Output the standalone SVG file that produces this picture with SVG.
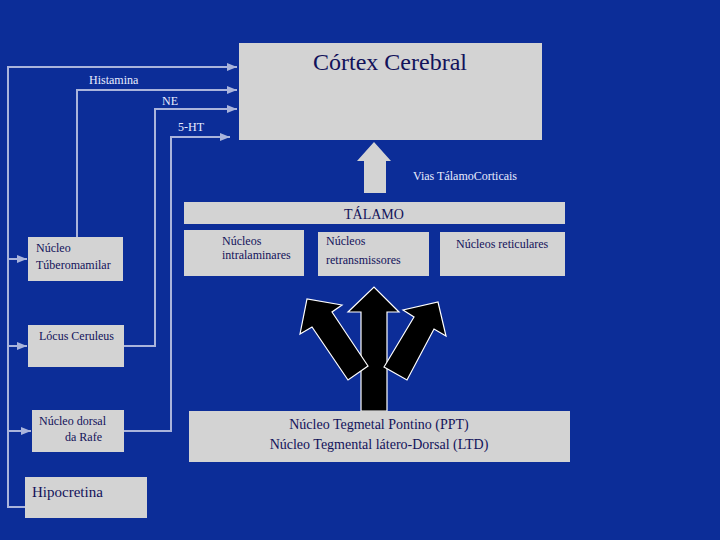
<svg xmlns="http://www.w3.org/2000/svg" width="720" height="540" viewBox="0 0 720 540">
<defs>
<marker id="ah" viewBox="0 0 10 10" refX="10" refY="5" markerWidth="5" markerHeight="5" markerUnits="strokeWidth" orient="auto">
<path d="M0,1 L10,5 L0,9 Z" fill="#aab4dc"/>
</marker>
<style>
.box{fill:#d3d3d3}
.t{fill:#12125a}
.lbl{fill:#e8ecff;font-size:12px}
.ln{fill:none;stroke:#aab4dc;stroke-width:2}
.blk{fill:#000;stroke:#fff;stroke-width:1.2;stroke-linejoin:miter}
</style>
</defs>
<rect width="720" height="540" fill="#0c2d98"/>
<g font-family="Liberation Serif, Times New Roman, DejaVu Serif, serif">
<g id="connectors">
<polyline class="ln" points="25,507 8,507 8,67 237,67" marker-end="url(#ah)"/>
<line class="ln" x1="8" y1="259" x2="27" y2="259" marker-end="url(#ah)"/>
<line class="ln" x1="8" y1="346" x2="27" y2="346" marker-end="url(#ah)"/>
<line class="ln" x1="8" y1="431" x2="31" y2="431" marker-end="url(#ah)"/>
<polyline class="ln" points="77,237 77,90 237,90" marker-end="url(#ah)"/>
<polyline class="ln" points="124,346 155,346 155,109 237,109" marker-end="url(#ah)"/>
<polyline class="ln" points="124,431 171,431 171,137 230,137" marker-end="url(#ah)"/>
<text class="lbl" x="89" y="84">Histamina</text>
<text class="lbl" x="162" y="105">NE</text>
<text class="lbl" x="178" y="131">5-HT</text>
<polygon fill="#d3d3d3" points="374,142 391,161 386,161 386,193 364,193 364,161 357,161"/>
<text class="lbl" x="413" y="180">Vias TálamoCorticais</text>
<polygon class="blk" points="361,411 361,312 348,312 374,287 399,312 387,312 387,411"/>
<polygon class="blk" points="348,380 312,327 300,334 307,299 342,305 332,312 368,366"/>
<polygon class="blk" points="384,367 414,317 403,310 438,302 446,336 434,329 407,380"/>
</g>

<g id="cortex">
<rect class="box" x="239" y="43" width="303" height="97"/>
<text class="t" x="390" y="70" font-size="24" text-anchor="middle">Córtex Cerebral</text>
</g>

<g id="talamo">
<rect class="box" x="184" y="202" width="381" height="22"/>
<text class="t" x="374" y="219" font-size="14" text-anchor="middle">TÁLAMO</text>
</g>

<g id="intralaminares">
<rect class="box" x="184" y="230" width="120" height="46"/>
<text class="t" x="222" y="245" font-size="12">Núcleos</text>
<text class="t" x="222" y="259" font-size="12">intralaminares</text>
</g>

<g id="retransmissores">
<rect class="box" x="318" y="232" width="111" height="44"/>
<text class="t" x="326" y="245" font-size="12">Núcleos</text>
<text class="t" x="326" y="264" font-size="12">retransmissores</text>
</g>

<g id="reticulares">
<rect class="box" x="440" y="232" width="125" height="44"/>
<text class="t" x="456" y="248" font-size="12">Núcleos reticulares</text>
</g>

<g id="tuberomamilar">
<rect class="box" x="28" y="237" width="95" height="44"/>
<text class="t" x="36" y="252" font-size="12">Núcleo</text>
<text class="t" x="36" y="269" font-size="12">Túberomamilar</text>
</g>

<g id="locus">
<rect class="box" x="28" y="325" width="96" height="42"/>
<text class="t" x="39" y="340" font-size="12">Lócus Ceruleus</text>
</g>

<g id="rafe">
<rect class="box" x="32" y="410" width="92" height="42"/>
<text class="t" x="39" y="425" font-size="12">Núcleo dorsal</text>
<text class="t" x="65" y="441" font-size="12">da Rafe</text>
</g>

<g id="hipocretina">
<rect class="box" x="25" y="477" width="122" height="41"/>
<text class="t" x="32" y="497" font-size="15">Hipocretina</text>
</g>

<g id="tegmental">
<rect class="box" x="189" y="411" width="381" height="51"/>
<text class="t" x="379" y="429" font-size="14" text-anchor="middle">Núcleo Tegmetal Pontino (PPT)</text>
<text class="t" x="379" y="449" font-size="14" text-anchor="middle">Núcleo Tegmental látero-Dorsal  (LTD)</text>
</g>
</g>
</svg>
